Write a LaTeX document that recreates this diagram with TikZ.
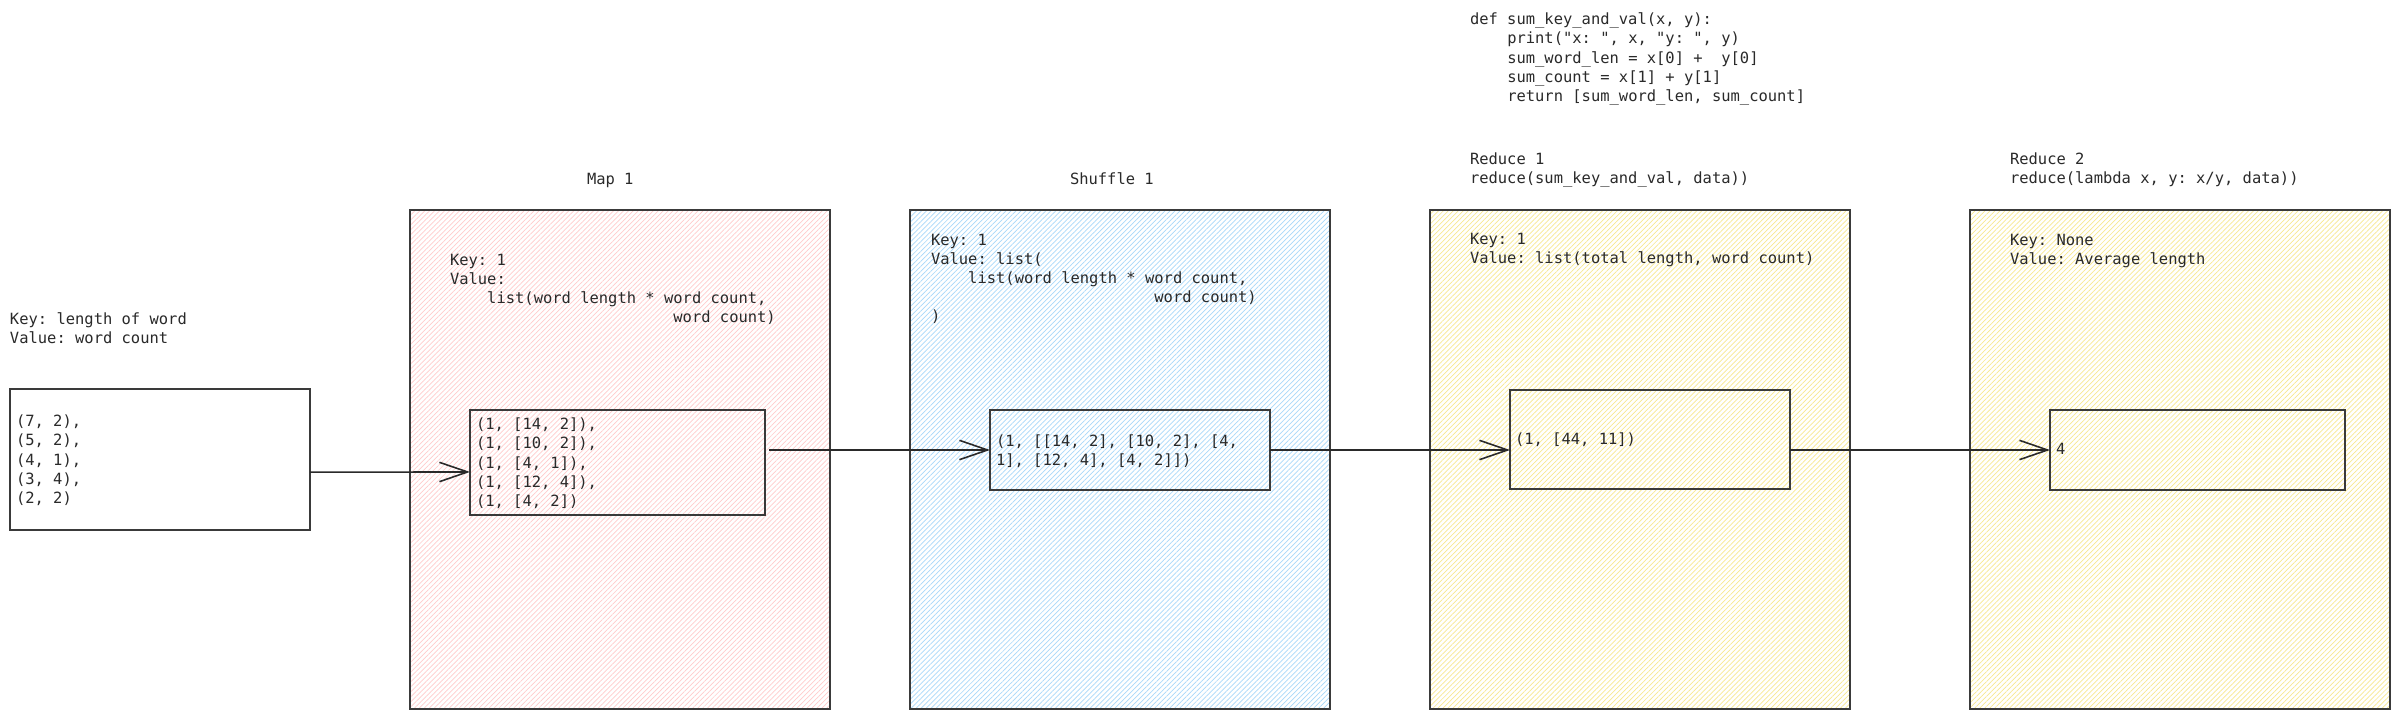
\documentclass[tikz,border=0pt]{standalone}
\usepackage{fontspec}
\setmonofont{DejaVu Sans Mono}
\usetikzlibrary{patterns.meta,arrows.meta,fit,calc}
\definecolor{edge}{HTML}{3A3A3A}
\definecolor{pinkh}{HTML}{FFCCCC}
\definecolor{blueh}{HTML}{A8D8FA}
\definecolor{yellowh}{HTML}{F8E890}
\definecolor{txt}{HTML}{2A2A2A}
\newcommand\mypad[1]{\hspace*{#1\fontcharwd\font`x}}
\begin{document}
\begin{tikzpicture}[x=0.02cm,y=-0.02cm,
  txtnode/.style={anchor=north west, inner sep=0, outer sep=0, align=left, text=txt,
    font=\ttfamily\fontsize{8.8}{10.9}\selectfont},
  box/.style={draw=edge, line width=0.8pt, inner sep=0, outer sep=0},
  hatch/.style={pattern={Lines[angle=45,distance=2pt,line width=0.4pt]}, pattern color=#1},
  arr/.style={draw=txt, line width=0.9pt, -{Straight Barb[length=16pt,width=11pt]}}
]
\fill[white] (0,0) rectangle (2400,720);
\useasboundingbox (0,0) rectangle (2400,720);

% big boxes
\node[box, hatch=pinkh, fit={(410,210) (830,709)}] (map) {};
\node[box, hatch=blueh, fit={(910,210) (1330,709)}] (shuf) {};
\node[box, hatch=yellowh, fit={(1430,210) (1850,709)}] (red1) {};
\node[box, hatch=yellowh, fit={(1970,210) (2390,709)}] (red2) {};

% inner boxes
\node[box, fit={(10,389) (310,530)}] (in) {};
\node[box, fit={(470,410) (765,515)}] (mapin) {};
\node[box, fit={(990,410) (1270,490)}] (shufin) {};
\node[box, fit={(1510,390) (1790,489)}] (red1in) {};
\node[box, fit={(2050,410) (2345,490)}] (red2in) {};

% texts
\node[txtnode] (inlab) at (10,313) {Key: length of word\\Value: word count};
\node[txtnode] (intxt) at (16,415) {(7, 2),\\(5, 2),\\(4, 1),\\(3, 4),\\(2, 2)};

\node[txtnode] (maptitle) at (587,173) {Map 1};
\node[txtnode] (maplab) at (450,254) {Key: 1\\Value:\\\mypad{4}list(word length * word count,\\\mypad{24}word count)};
\node[txtnode] (maptxt) at (476,418) {(1, [14, 2]),\\(1, [10, 2]),\\(1, [4, 1]),\\(1, [12, 4]),\\(1, [4, 2])};

\node[txtnode] (shuftitle) at (1070,173) {Shuffle 1};
\node[txtnode] (shuflab) at (931,234) {Key: 1\\Value: list(\\\mypad{4}list(word length * word count,\\\mypad{24}word count)\\)};
\node[txtnode] (shuftxt) at (996,435) {(1, [[14, 2], [10, 2], [4,\\1], [12, 4], [4, 2]])};

\node[txtnode] (code) at (1470,13) {def sum\_key\_and\_val(x, y):\\\mypad{4}print("x: ", x, "y: ", y)\\\mypad{4}sum\_word\_len = x[0] + \ y[0]\\\mypad{4}sum\_count = x[1] + y[1]\\\mypad{4}return [sum\_word\_len, sum\_count]};
\node[txtnode] (red1title) at (1470,153) {Reduce 1\\reduce(sum\_key\_and\_val, data))};
\node[txtnode] (red1lab) at (1470,233) {Key: 1\\Value: list(total length, word count)};
\node[txtnode] (red1txt) at (1515,433) {(1, [44, 11])};

\node[txtnode] (red2title) at (2010,153) {Reduce 2\\reduce(lambda x, y: x/y, data))};
\node[txtnode] (red2lab) at (2010,234) {Key: None\\Value: Average length};
\node[txtnode] (red2txt) at (2056,443) {4};

% connectors
\draw[arr] ($(in.north east)!0.59!(in.south east)$) -- ($(mapin.north west)!0.59!(mapin.south west)$);
\draw[arr, shorten <=0.08cm] (shufin.west -| mapin.east) -- (shufin.west);
\draw[arr] (shufin.east) -- (shufin.east -| red1in.west);
\draw[arr] (red2in.west -| red1in.east) -- (red2in.west);
\end{tikzpicture}
\end{document}
